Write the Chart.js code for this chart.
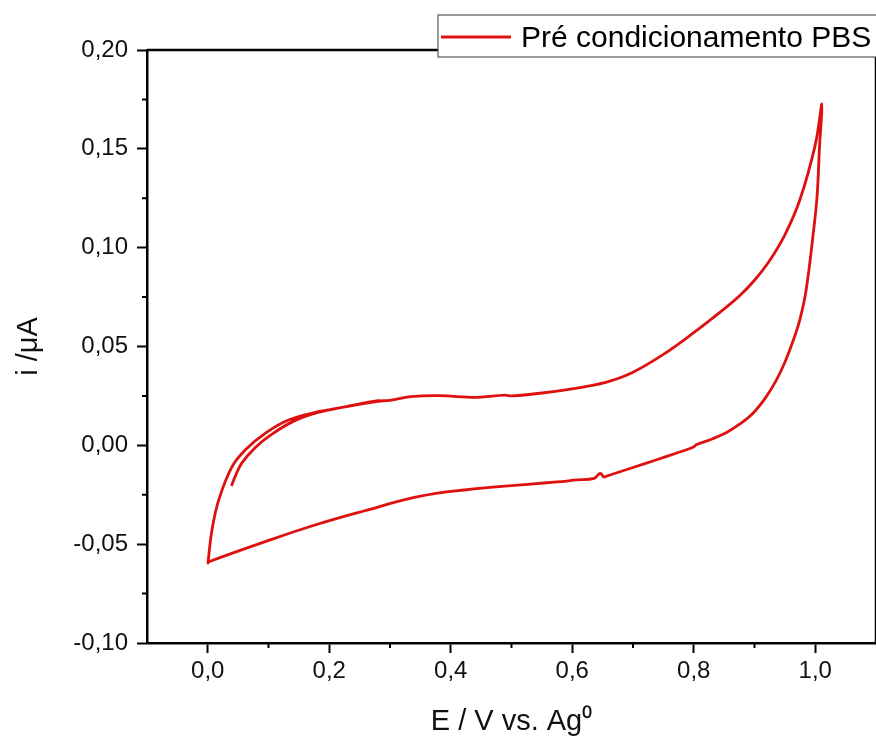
<!DOCTYPE html>
<html>
<head>
<meta charset="utf-8">
<script src="https://cdn.jsdelivr.net/npm/chart.js@4.4.1/dist/chart.umd.min.js"></script>
<style>
  html, body { margin: 0; padding: 0; background: #fff; overflow: hidden; }
  #wrap { width: 880px; height: 739px; position: relative; }
</style>
</head>
<body>
<div id="wrap"><canvas id="cv"></canvas></div>
<script>
// anodic sweep (first pass, starts at 0.04 V)
var forwardE = [0.039, 0.045, 0.056, 0.078, 0.105, 0.14, 0.18, 0.226, 0.28, 0.30, 0.334, 0.379, 0.444, 0.489, 0.50, 0.554, 0.62, 0.662, 0.70, 0.75, 0.80, 0.85, 0.875, 0.90, 0.925, 0.95, 0.975, 1.0, 1.011];
var forwardI = [-0.0206, -0.0158, -0.009, -0.0012, 0.0055, 0.012, 0.0165, 0.0195, 0.0223, 0.0228, 0.0246, 0.0251, 0.0243, 0.0254, 0.0250, 0.0266, 0.0296, 0.0325, 0.037, 0.046, 0.057, 0.069, 0.0755, 0.0835, 0.0935, 0.1065, 0.1245, 0.152, 0.1727];
// cathodic sweep back to 0 V
var reverseE = [1.007, 1.003, 0.997, 0.985, 0.975, 0.964, 0.95, 0.936, 0.918, 0.898, 0.876, 0.854, 0.83, 0.805, 0.80, 0.795, 0.772, 0.739, 0.70, 0.657, 0.652, 0.646, 0.636, 0.608, 0.575, 0.531, 0.4225, 0.346, 0.2585, 0.1766, 0.0946, 0.0016];
var reverseI = [0.151, 0.126, 0.108, 0.0786, 0.064, 0.0533, 0.042, 0.033, 0.024, 0.0164, 0.0108, 0.0065, 0.0032, 0.0004, -0.0008, -0.0015, -0.0039, -0.0073, -0.0112, -0.0155, -0.016, -0.0142, -0.0167, -0.0175, -0.0185, -0.0196, -0.0226, -0.026, -0.0331, -0.0403, -0.0487, -0.0589];
// second anodic part
var returnE = [0.0005, 0.007, 0.018, 0.040, 0.062, 0.095, 0.133, 0.182, 0.226, 0.28, 0.29];
var returnI = [-0.0595, -0.0428, -0.0277, -0.0108, -0.0022, 0.0062, 0.0128, 0.017, 0.0195, 0.0226, 0.0224];

var seriesLabel = 'Pré condicionamento PBS';
var lineColor = 'rgb(222, 16, 16)';

var E = forwardE.concat(reverseE, returnE);
var I = forwardI.concat(reverseI, returnI);
var points = E.map(function (v, k) { return { x: v, y: I[k] }; });

function xLabel(v) {
    var r = Math.round(v * 10);
    if (r % 2 === 0 && r >= 0 && r <= 10) return (r / 10).toFixed(1).replace('.', ',');
    return '';
}
function yLabel(v) {
    var r = Math.round(v * 40);
    if (r % 2 === 0) return (r / 40).toFixed(2).replace('.', ',');
    return '';
}

var fontName = "'Liberation Sans', Arial, sans-serif";

// frame, minor ticks and legend box
var extras = {
    id: 'extras',
    afterDraw: function (chart) {
        var ctx = chart.ctx, a = chart.chartArea;
        var sx = chart.scales.x, sy = chart.scales.y;
        ctx.save();
        ctx.strokeStyle = '#000';
        ctx.lineWidth = 2.5;
        ctx.beginPath();
        ctx.moveTo(a.left, a.top);
        ctx.lineTo(a.right, a.top);
        ctx.lineTo(a.right, a.bottom);
        ctx.stroke();

        ctx.lineWidth = 2;
        ctx.beginPath();
        sx.ticks.forEach(function (t) {
            if (xLabel(t.value) === '' && t.value > -0.05 && t.value < 1.05) {
                var px = sx.getPixelForValue(t.value);
                ctx.moveTo(px, a.bottom);
                ctx.lineTo(px, a.bottom + 5);
            }
        });
        sy.ticks.forEach(function (t) {
            if (yLabel(t.value) === '') {
                var py = sy.getPixelForValue(t.value);
                ctx.moveTo(a.left, py);
                ctx.lineTo(a.left - 5, py);
            }
        });
        ctx.stroke();

        // legend
        var bx = 438, by = 15, bw = 460, bh = 42;
        ctx.fillStyle = '#fff';
        ctx.fillRect(bx, by, bw, bh);
        ctx.strokeStyle = '#555';
        ctx.lineWidth = 1.2;
        ctx.strokeRect(bx, by, bw, bh);
        ctx.strokeStyle = lineColor;
        ctx.lineWidth = 3;
        ctx.beginPath();
        ctx.moveTo(441, 37);
        ctx.lineTo(511, 37);
        ctx.stroke();
        ctx.fillStyle = '#000';
        ctx.font = '30px ' + fontName;
        ctx.textBaseline = 'alphabetic';
        ctx.fillText(seriesLabel, 521, 47);
        ctx.restore();
    }
};

new Chart(document.getElementById('cv'), {
    type: 'scatter',
    data: {
        datasets: [{
            label: seriesLabel,
            data: points,
            showLine: true,
            borderColor: lineColor,
            borderWidth: 2.8,
            pointRadius: 0,
            tension: 0.4,
            fill: false
        }]
    },
    options: {
        responsive: true,
        maintainAspectRatio: false,
        animation: false,
        layout: { padding: { top: 50, left: 0, right: 0, bottom: 0 } },
        plugins: {
            legend: { display: false },
            tooltip: { enabled: false }
        },
        scales: {
            x: {
                type: 'linear',
                min: -0.1,
                max: 1.1,
                afterFit: function (s) { s.height = 96; },
                border: { display: true, color: '#000', width: 2.5 },
                grid: {
                    drawOnChartArea: false,
                    drawTicks: true,
                    tickLength: 10,
                    tickWidth: 2,
                    tickColor: function (c) { return (c.tick && xLabel(c.tick.value) !== '') ? '#000' : 'rgba(0,0,0,0)'; }
                },
                ticks: {
                    stepSize: 0.1,
                    autoSkip: false,
                    maxRotation: 0,
                    padding: 4,
                    color: '#111',
                    font: { family: fontName, size: 24 },
                    callback: function (v) { return xLabel(v); }
                },
                title: {
                    display: true,
                    text: 'E / V vs. Ag\u2070',
                    color: '#111',
                    font: { family: fontName, size: 29 },
                    padding: { top: 0, bottom: 0 }
                }
            },
            y: {
                type: 'linear',
                min: -0.1,
                max: 0.2,
                afterFit: function (s) { s.width = 147; },
                border: { display: true, color: '#000', width: 2.5 },
                grid: {
                    drawOnChartArea: false,
                    drawTicks: true,
                    tickLength: 10,
                    tickWidth: 2,
                    tickColor: function (c) { return (c.tick && yLabel(c.tick.value) !== '') ? '#000' : 'rgba(0,0,0,0)'; }
                },
                ticks: {
                    stepSize: 0.025,
                    autoSkip: false,
                    padding: 9,
                    color: '#111',
                    font: { family: fontName, size: 24 },
                    callback: function (v) { return yLabel(v); }
                },
                title: {
                    display: true,
                    text: 'i /\u03bcA',
                    color: '#111',
                    font: { family: fontName, size: 29 },
                    padding: { top: 12, bottom: 10 }
                }
            }
        }
    },
    plugins: [extras]
});
</script>
</body>
</html>
